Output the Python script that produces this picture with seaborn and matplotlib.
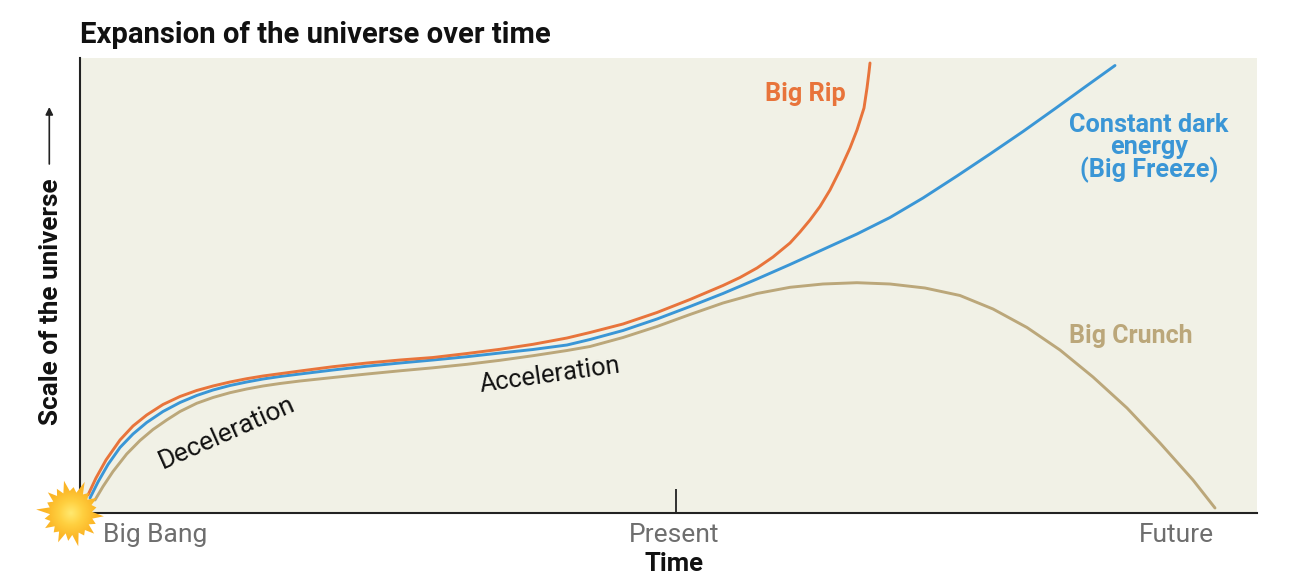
import numpy as np
import pandas as pd
import seaborn as sns
import matplotlib.pyplot as plt
from matplotlib.colors import LinearSegmentedColormap
from matplotlib.patches import Polygon

# values (time and scale, in arbitrary units)
rip_time = [8, 16, 26, 40, 53, 66.7, 83, 100, 116.7, 133, 150, 166.7, 183, 200, 220, 253, 287, 320, 353, 387,
            420, 453, 487, 510, 543, 577, 610, 643, 660, 677, 693, 710, 720, 730, 740, 750, 760, 770, 777, 784,
            787, 789, 790]
rip_scale = [18, 35, 53, 73, 87, 98, 108.5, 116.5, 122.5, 127, 131, 134.3, 137, 139.3, 142, 146.3, 150, 153,
             155.5, 159.5, 163.7, 168.7, 175, 180.5, 189, 200.5, 213.5, 227.5, 235.5, 245, 256, 270, 281, 293,
             306.5, 323, 343, 365, 383, 405, 425, 441, 450]

freeze_time = [10, 18, 28, 40, 53, 66.7, 83, 100, 116.7, 133, 150, 166.7, 183, 200, 220, 253, 287, 320, 353, 387,
               420, 453, 487, 510, 543, 577, 610, 643, 677, 710, 743, 777, 810, 843, 877, 910, 943, 976, 1005, 1035]
freeze_scale = [15, 31, 48.5, 65.5, 79, 90.5, 101.5, 110.5, 117.5, 123, 127.5, 131, 134, 136.5, 139, 143, 146.8,
                150, 153, 156.3, 160, 163.5, 168, 173.5, 182.5, 194, 206.5, 219.5, 234, 248.5, 263.5, 279,
                295.5, 315, 337, 359, 381.5, 405, 426, 447.5]

crunch_time = [15, 23, 33, 46.7, 60, 73, 86.7, 100, 116.7, 133, 150, 166.7, 183, 200, 220, 253, 287, 320, 353, 387,
               420, 453, 487, 510, 543, 577, 610, 643, 677, 710, 743, 777, 810, 845, 880, 913, 947, 980, 1013, 1047,
               1080, 1113, 1135]
crunch_scale = [13, 26.5, 41.5, 59, 72.5, 83.5, 93, 101.5, 109.7, 115.5, 120.3, 124, 127, 129.5, 132, 135.5, 139,
                142.2, 145.2, 148.7, 152.7, 157.3, 162.5, 166.5, 175.5, 186.5, 198.5, 210, 219.5, 225.7, 229,
                230.3, 229, 225, 217.5, 204, 185.5, 163, 136, 105, 70, 33, 5]

tick_pos = [75.5, 594.5, 1096]
tick_labels = ['Big Bang', 'Present', 'Future']
present_pos = [596]

# spikes of the sun, outer and inner radius in turn
sun_radii = [33, 22, 27, 21, 31, 22, 26, 21, 34, 22, 28, 21, 32, 22, 26, 21, 30, 22, 27, 21,
             35, 22, 26, 21, 31, 22, 28, 21, 33, 22, 26, 21, 34, 22, 27, 21, 30, 22, 26, 21]

df = pd.concat([
    pd.DataFrame({'time': rip_time, 'scale': rip_scale, 'case': 'Big Rip'}),
    pd.DataFrame({'time': freeze_time, 'scale': freeze_scale, 'case': 'Constant'}),
    pd.DataFrame({'time': crunch_time, 'scale': crunch_scale, 'case': 'Big Crunch'}),
])

orange = '#e8743b'
blue = '#3a96d6'
tan = '#bba77a'
grey = '#6e6e6e'

sns.set_theme(style='white')
plt.rcParams['font.family'] = ['Roboto', 'DejaVu Sans']

fig = plt.figure(figsize=(12.96, 5.76), dpi=100)
ax = fig.add_axes([80 / 1296, 63 / 576, 1177 / 1296, 455 / 576])
ax.set_facecolor('#f1f1e6')

sns.lineplot(data=df, x='time', y='scale', hue='case', sort=False, estimator=None, ax=ax,
             palette={'Big Rip': orange, 'Constant': blue, 'Big Crunch': tan},
             hue_order=['Big Crunch', 'Constant', 'Big Rip'], linewidth=2.1, legend=False)

ax.set_xlim(0, 1177)
ax.set_ylim(0, 455)
ax.set_xticks(tick_pos)
ax.set_xticklabels(tick_labels, fontsize=19, color=grey)
ax.set_xticks(present_pos, minor=True)
ax.set_yticks([])
ax.tick_params(axis='x', which='major', length=0, pad=7)
ax.tick_params(axis='x', which='minor', bottom=True, direction='in', length=17.3, width=1.3, color='#222222')
sns.despine(ax=ax, top=True, right=True)
for side in ['left', 'bottom']:
    ax.spines[side].set_color('#222222')
    ax.spines[side].set_linewidth(1.5)

ax.set_xlabel('')
ax.set_ylabel('')
fig.text(674 / 1296, 1 - 564 / 576, 'Time', fontsize=18.5, fontweight='bold', color='#111111',
         ha='center', va='center')
fig.text(51 / 1296, 1 - 302 / 576, 'Scale of the universe', rotation=90, fontsize=18.8, fontweight='bold',
         color='#111111', ha='center', va='center')
ax.annotate('', xy=(-30.7, 406), xytext=(-30.7, 349), annotation_clip=False,
            arrowprops=dict(arrowstyle='-|>', color='#222222', lw=1.2, mutation_scale=11, shrinkA=0, shrinkB=0))

fig.text(80 / 1296, 1 - 35 / 576, 'Expansion of the universe over time', fontsize=21.1, fontweight='bold',
         color='#111111', ha='left', va='center')

ax.text(725, 419.5, 'Big Rip', color=orange, fontsize=18.2, fontweight='bold', ha='center', va='center')
ax.text(1069, 365, 'Constant dark\nenergy\n(Big Freeze)', color=blue, fontsize=18.2, fontweight='bold',
        ha='center', va='center', linespacing=0.9)
ax.text(1051, 177, 'Big Crunch', color=tan, fontsize=18, fontweight='bold', ha='center', va='center')
ax.text(147, 80, 'Deceleration', color='#111111', fontsize=18.9, rotation=24, ha='center', va='center')
ax.text(470, 138, 'Acceleration', color='#111111', fontsize=18.4, rotation=8, ha='center', va='center')

# sun at the origin: radial gradient clipped by a spiky outline, on an overlay in pixel units
sun_ax = fig.add_axes([0, 0, 1, 1])
sun_ax.axis('off')
angles = np.linspace(0, 2 * np.pi, len(sun_radii), endpoint=False) + 0.1
cx, cy = 71, 513
radii = np.array(sun_radii)
star = np.column_stack([cx + radii * np.cos(angles), cy + radii * np.sin(angles)])
poly = Polygon(star, closed=True, facecolor='none', edgecolor='none')
sun_ax.add_patch(poly)
gx, gy = np.meshgrid(np.linspace(-1, 1, 120), np.linspace(-1, 1, 120))
sun_cmap = LinearSegmentedColormap.from_list('sun', ['#ffe970', '#ffd040', '#fcb828', '#fbae22'])
sun = sun_ax.imshow(np.hypot(gx, gy), extent=(cx - 36, cx + 36, cy + 36, cy - 36), cmap=sun_cmap,
                    vmin=0, vmax=1, aspect='auto')
sun.set_clip_path(poly)
sun_ax.set_xlim(0, 1296)
sun_ax.set_ylim(576, 0)

fig.savefig('out.png', dpi=100)
